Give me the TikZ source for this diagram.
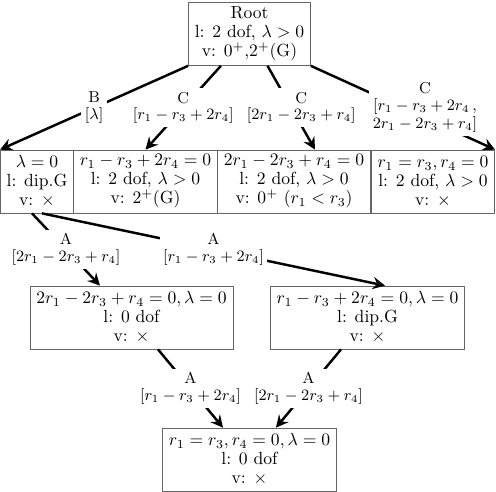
\documentclass[tikz,border=0pt]{standalone}
\usepackage{amsmath}
\usetikzlibrary{arrows.meta}

\begin{document}
\begin{tikzpicture}[
    x=0.2mm, y=-0.2mm,
    state/.style={draw=black!60, rectangle, align=center, inner xsep=3.6pt, inner ysep=1pt,
        minimum height=12.6mm, font={\normalsize\baselineskip=10.8pt}},
    cut/.style={fill=white, align=center, inner sep=2pt, font={\small\baselineskip=9.4pt}},
    link/.style={->, line width=1.4pt},
    >={Stealth[length=7pt,width=7pt,inset=2.5pt]}
]
\useasboundingbox (0,0) rectangle (496,492);

% root
\node[state] (root) at (249.5,34) {Root\\l: 2 dof, $\lambda>0$\\v: $0^+$,$2^+$(G)};

% first level
\node[state] (lam) at (37,181.5) {$\lambda=0$\\l: dip.G\\v: $\times$};
\node[state] (ca) at (145.5,181.5) {$r_1-r_3+2r_4=0$\\l: 2 dof, $\lambda>0$\\v: $2^+$(G)};
\node[state] (cb) at (294,181.5) {$2r_1-2r_3+r_4=0$\\l: 2 dof, $\lambda>0$\\v: $0^+$ $(r_1<r_3)$};
\node[state] (cc) at (433,181.5) {$r_1=r_3, r_4=0$\\l: 2 dof, $\lambda>0$\\v: $\times$};

% second level
\node[state] (aa) at (131.5,317.5) {$2r_1-2r_3+r_4=0, \lambda=0$\\l: 0 dof\\v: $\times$};
\node[state] (ab) at (367.5,317.5) {$r_1-r_3+2r_4=0, \lambda=0$\\l: dip.G\\v: $\times$};

% last level
\node[state] (fin) at (249.5,459.5) {$r_1=r_3, r_4=0, \lambda=0$\\l: 0 dof\\v: $\times$};

% cuts from the root
\draw[link] (root) -- node[cut] {C\\$[r_1-r_3+2r_4]$} (ca.north);
\draw[link] (root) -- node[cut, xshift=2mm] {C\\$[2r_1-2r_3+r_4]$} ([xshift=4.2mm]cb.north);
\draw[link] (root.south east) -- node[cut, xshift=4.4mm] {C\\$[r_1-r_3+2r_4\,,$\\[1pt]$2r_1-2r_3+r_4]$} (cc.north east);
\draw[link] (root.south west) -- node[cut] {B\\$[\lambda]$} (lam.north west);

% cuts from lambda = 0
\draw[link] ([xshift=-1mm]lam.south) -- node[cut] {A\\$[2r_1-2r_3+r_4]$} ([xshift=-6.3mm]aa.north);
\draw[link] ([xshift=1mm]lam.south) -- node[cut] {A\\$[r_1-r_3+2r_4]$} ([xshift=3.5mm]ab.north);

% down to the last state
\draw[link] (aa) -- node[cut] {A\\$[r_1-r_3+2r_4]$} (fin);
\draw[link] (ab) -- node[cut] {A\\$[2r_1-2r_3+r_4]$} (fin);

\end{tikzpicture}
\end{document}
